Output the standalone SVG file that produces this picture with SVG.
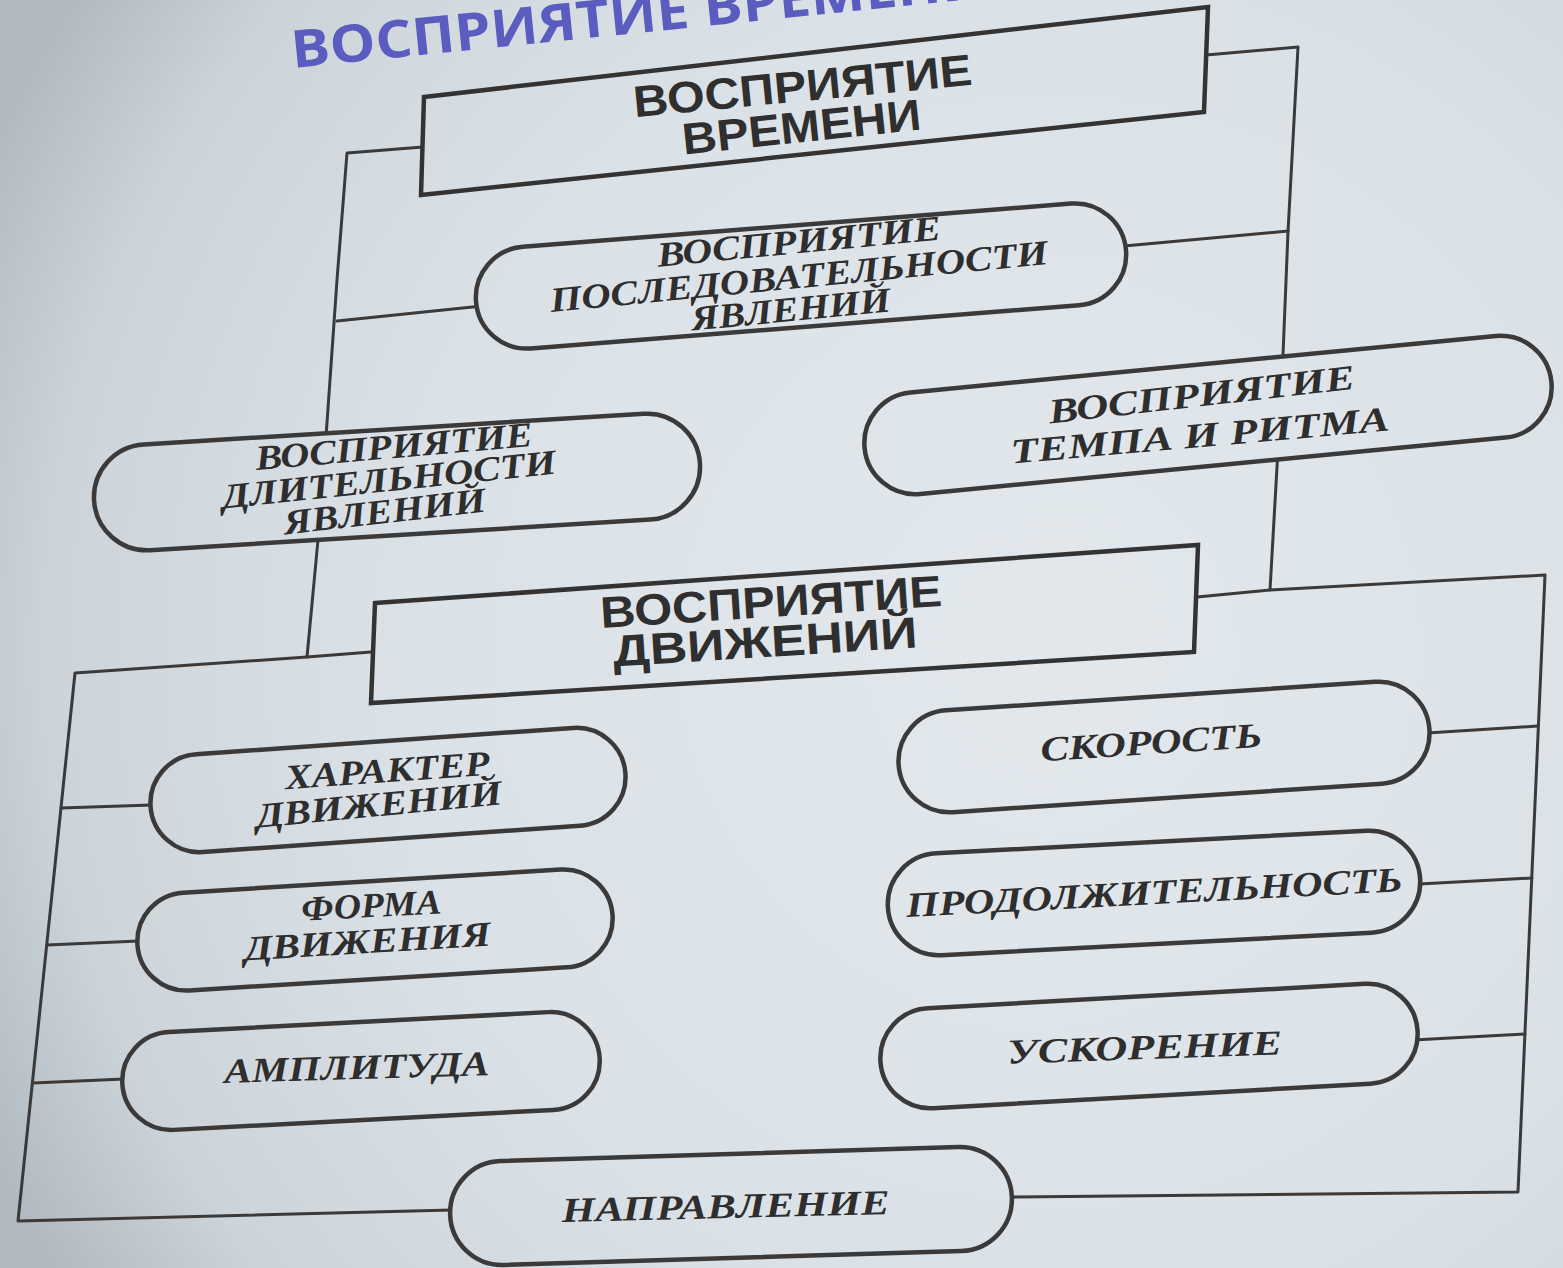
<svg xmlns="http://www.w3.org/2000/svg" width="1563" height="1268" viewBox="0 0 1563 1268">
<defs>
<radialGradient id="bg" gradientUnits="userSpaceOnUse" cx="1050" cy="650" r="1180">
<stop offset="0" stop-color="#e2e8ec"/>
<stop offset="0.55" stop-color="#dbe2e7"/>
<stop offset="0.85" stop-color="#ccd4da"/>
<stop offset="1" stop-color="#b0b9c0"/>
</radialGradient>
<style>
.ln{fill:none;stroke:#3a3a3a;stroke-width:3;stroke-linejoin:round;stroke-linecap:round}
.box{fill:url(#bg);stroke:#333;stroke-width:4.5;stroke-linejoin:miter}
.ov{fill:url(#bg);stroke:#3a3a3a;stroke-width:4.5}
.bt{font-family:"Liberation Sans","DejaVu Sans",sans-serif;font-weight:bold;font-size:44px;fill:#2f2f2f;text-anchor:middle}
.et{font-family:"Liberation Serif","DejaVu Serif",serif;font-weight:bold;font-style:italic;font-size:35px;fill:#2e2e2e;text-anchor:middle}
.title{font-family:"Open Sans","Liberation Sans",sans-serif;font-weight:bold;font-size:52px;fill:#5a5cc0}
</style>
</defs>
<rect width="1563" height="1268" fill="url(#bg)"/>
<text class="title" x="293" y="68" textLength="700" lengthAdjust="spacingAndGlyphs" transform="rotate(-5.8 293 68)">ВОСПРИЯТИЕ ВРЕМЕНИ</text>

<g id="connectors">
<polyline class="ln" points="423,147 347,153 337,280 326,437 318,540 307,657"/>
<polyline class="ln" points="337,321 482,306"/>
<polyline class="ln" points="1124,246 1288,231"/>
<polyline class="ln" points="1206,55 1298,47 1288,232 1283,355 1277,467 1270,590"/>
<polyline class="ln" points="371,652 307,657 75,673 18,1221 452,1210"/>
<polyline class="ln" points="1197,597 1270,590 1545,575 1518,1192 1010,1197"/>
<polyline class="ln" points="61,808 152,805"/>
<polyline class="ln" points="47,945 139,941"/>
<polyline class="ln" points="33,1083 124,1079"/>
<polyline class="ln" points="1427,733 1538,726"/>
<polyline class="ln" points="1419,884 1532,878"/>
<polyline class="ln" points="1413,1040 1525,1034"/>
</g>

<g id="n-time">
<polygon class="box" points="424,97 1208,7 1204,112 421,195"/>
<text class="bt" x="804" y="101" textLength="340" lengthAdjust="spacingAndGlyphs" transform="rotate(-5.5 804 101)">ВОСПРИЯТИЕ</text>
<text class="bt" x="803" y="142" textLength="240" lengthAdjust="spacingAndGlyphs" transform="rotate(-6 803 142)">ВРЕМЕНИ</text>
</g>

<g id="n-sequence">
<rect class="ov" x="475" y="225" width="652" height="102" rx="51" transform="rotate(-4.5 801 276)"/>
<text class="et" x="800" y="253" textLength="285" lengthAdjust="spacingAndGlyphs" transform="rotate(-5.5 800 253)">ВОСПРИЯТИЕ</text>
<text class="et" x="800" y="288" textLength="500" lengthAdjust="spacingAndGlyphs" transform="rotate(-5.5 800 288)">ПОСЛЕДОВАТЕЛЬНОСТИ</text>
<text class="et" x="792" y="321" textLength="200" lengthAdjust="spacingAndGlyphs" transform="rotate(-5.5 792 321)">ЯВЛЕНИЙ</text>
</g>

<g id="n-duration">
<rect class="ov" x="93.5" y="429" width="607" height="106" rx="53" transform="rotate(-3.5 397 482)"/>
<text class="et" x="395" y="458" textLength="278" lengthAdjust="spacingAndGlyphs" transform="rotate(-5 395 458)">ВОСПРИЯТИЕ</text>
<text class="et" x="390" y="491" textLength="336" lengthAdjust="spacingAndGlyphs" transform="rotate(-6 390 491)">ДЛИТЕЛЬНОСТИ</text>
<text class="et" x="386" y="523" textLength="203" lengthAdjust="spacingAndGlyphs" transform="rotate(-6.5 386 523)">ЯВЛЕНИЙ</text>
</g>

<g id="n-tempo">
<rect class="ov" x="863" y="364" width="690" height="102" rx="51" transform="rotate(-5.5 1208 415)"/>
<text class="et" x="1203" y="406" textLength="308" lengthAdjust="spacingAndGlyphs" transform="rotate(-6.5 1203 406)">ВОСПРИЯТИЕ</text>
<text class="et" x="1201" y="447" textLength="380" lengthAdjust="spacingAndGlyphs" transform="rotate(-5 1201 447)">ТЕМПА И РИТМА</text>
</g>

<g id="n-motion">
<polygon class="box" points="375,603 1198,545 1194,652 371,703"/>
<text class="bt" x="772" y="617" textLength="342" lengthAdjust="spacingAndGlyphs" transform="rotate(-3.7 772 617)">ВОСПРИЯТИЕ</text>
<text class="bt" x="766" y="657" textLength="305" lengthAdjust="spacingAndGlyphs" transform="rotate(-3.6 766 657)">ДВИЖЕНИЙ</text>
</g>

<g id="n-character">
<rect class="ov" x="150" y="741" width="476" height="98" rx="49" transform="rotate(-4 388 790)"/>
<text class="et" x="388" y="782" textLength="205" lengthAdjust="spacingAndGlyphs" transform="rotate(-4 388 782)">ХАРАКТЕР</text>
<text class="et" x="380" y="816" textLength="247" lengthAdjust="spacingAndGlyphs" transform="rotate(-5.5 380 816)">ДВИЖЕНИЙ</text>
</g>

<g id="n-form">
<rect class="ov" x="137" y="881" width="476" height="98" rx="49" transform="rotate(-3.5 375 930)"/>
<text class="et" x="372" y="917" textLength="140" lengthAdjust="spacingAndGlyphs" transform="rotate(-3 372 917)">ФОРМА</text>
<text class="et" x="368" y="953" textLength="247" lengthAdjust="spacingAndGlyphs" transform="rotate(-3.5 368 953)">ДВИЖЕНИЯ</text>
</g>

<g id="n-amplitude">
<rect class="ov" x="122" y="1022" width="478" height="98" rx="49" transform="rotate(-3 361 1071)"/>
<text class="et" x="357" y="1079" textLength="265" lengthAdjust="spacingAndGlyphs" transform="rotate(-1.7 357 1079)">АМПЛИТУДА</text>
</g>

<g id="n-direction">
<rect class="ov" x="450" y="1154" width="562" height="104" rx="52" transform="rotate(-1.75 731 1206)"/>
<text class="et" x="726" y="1218" textLength="328" lengthAdjust="spacingAndGlyphs" transform="rotate(-1.4 726 1218)">НАПРАВЛЕНИЕ</text>
</g>

<g id="n-speed">
<rect class="ov" x="898" y="696" width="532" height="102" rx="51" transform="rotate(-3.8 1164 747)"/>
<text class="et" x="1152" y="754" textLength="222" lengthAdjust="spacingAndGlyphs" transform="rotate(-3.8 1152 754)">СКОРОСТЬ</text>
</g>

<g id="n-duration2">
<rect class="ov" x="887.5" y="842" width="533" height="102" rx="51" transform="rotate(-3 1154 893)"/>
<text class="et" x="1155" y="904" textLength="497" lengthAdjust="spacingAndGlyphs" transform="rotate(-3 1155 904)">ПРОДОЛЖИТЕЛЬНОСТЬ</text>
</g>

<g id="n-acceleration">
<rect class="ov" x="880" y="996" width="538" height="100" rx="50" transform="rotate(-3.2 1149 1046)"/>
<text class="et" x="1145" y="1059" textLength="275" lengthAdjust="spacingAndGlyphs" transform="rotate(-2 1145 1059)">УСКОРЕНИЕ</text>
</g>
</svg>
